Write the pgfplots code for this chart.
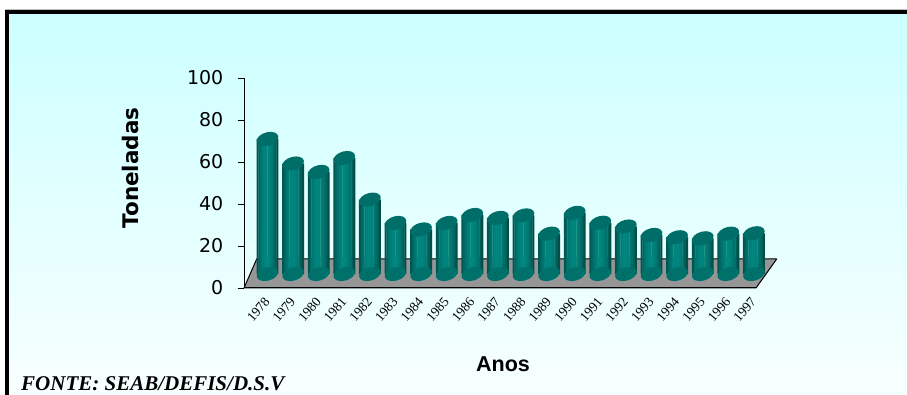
\documentclass[border=0pt]{standalone}
\usepackage{pgfplots}
\pgfplotsset{compat=1.18}
\usepackage{pgfplotstable}
\usepackage{fontspec}
\setmainfont{DejaVu Sans}
\newfontfamily\arialfont{Liberation Sans}
\newfontfamily\timesfont{Liberation Serif}

\definecolor{bgtop}{RGB}{204,255,255}
\definecolor{bgbot}{RGB}{248,255,255}
\definecolor{floorgray}{RGB}{150,150,150}
\definecolor{cylTop}{RGB}{0,110,104}
\definecolor{cylBot}{RGB}{0,112,106}
% vertical strips of the cylinder body, from the left edge to the right edge
\definecolor{cylS0}{RGB}{0,86,82}
\definecolor{cylS1}{RGB}{0,102,97}
\definecolor{cylS2}{RGB}{0,115,109}
\definecolor{cylS3}{RGB}{0,125,118}
\definecolor{cylS4}{RGB}{0,131,124}
\definecolor{cylS5}{RGB}{0,134,127}
\definecolor{cylS6}{RGB}{0,133,126}
\definecolor{cylS7}{RGB}{0,129,122}
\definecolor{cylS8}{RGB}{0,121,115}
\definecolor{cylS9}{RGB}{0,110,104}
\definecolor{cylS10}{RGB}{0,96,91}
\definecolor{cylS11}{RGB}{0,78,74}

% elliptic cap of a cylinder, slightly tilted by the perspective
\pgfdeclareplotmark{cylcap}{%
  \pgfpathellipse{\pgfpointorigin}{\pgfqpoint{10.8pt}{2.6pt}}{\pgfqpoint{-1.0pt}{6.6pt}}%
  \pgfusepathqfill}

\pgfplotstableread{
idx year base tons
0  1978 0 64.3
1  1979 0 52.6
2  1980 0 48.6
3  1981 0 55.2
4  1982 0 35.4
5  1983 0 24.3
6  1984 0 21.2
7  1985 0 24.3
8  1986 0 28.1
9  1987 0 26.7
10 1988 0 27.9
11 1989 0 19.2
12 1990 0 29.1
13 1991 0 24.4
14 1992 0 22.6
15 1993 0 18.6
16 1994 0 17.5
17 1995 0 17.0
18 1996 0 19.2
19 1997 0 19.4
}\toneladas

\begin{document}
\begin{tikzpicture}[x=1pt,y=1pt]
\useasboundingbox (0,0) rectangle (907,395);
\fill[white] (0,0) rectangle (907,395);
\shade[top color=bgtop,bottom color=bgbot] (9,0) rectangle (907,381);
\draw[black!25, line width=0.6pt] (5,386) -- (907,386);
\fill[black] (5,0) rectangle (9,385);
\fill[black] (5,381) rectangle (907,385);

% front axis with the value scale, the year labels and the floor
\begin{axis}[
  at={(244pt,107pt)}, anchor=south west,
  width=512pt, height=210pt, scale only axis,
  xmin=-0.5, xmax=19.5, ymin=0, ymax=100,
  axis lines=left, axis line style={-, line width=1pt},
  axis on top,
  ytick={0,20,...,100},
  xtick={0,...,19},
  xticklabels from table={\toneladas}{year},
  x tick style={draw=none},
  extra x ticks={-0.5,0.5,...,19.5},
  extra x tick labels={},
  extra x tick style={major tick length=4pt, tick style={draw=black}},
  tick align=outside,
  major tick length=6.5pt,
  tick style={black, line width=0.8pt},
  /pgf/number format/assume math mode=true,
  yticklabel style={font=\fontsize{19}{19}\selectfont, inner sep=0pt, xshift=-14pt},
  xticklabel style={font=\timesfont\fontsize{13.5}{13.5}\selectfont, rotate=50,
    anchor=east, inner sep=0pt, xshift=3pt, yshift=-11pt},
  clip=false,
]
\fill[floorgray, draw=black, line width=1pt, line join=round]
  (axis cs:-0.5,0) -- (axis cs:19.5,0)
  -- ([shift={(20.7pt,29pt)}]axis cs:19.5,0)
  -- ([shift={(12.7pt,29pt)}]axis cs:-0.5,0) -- cycle;
\end{axis}

% cylinders standing at mid depth of the floor
\begin{axis}[
  at={(254.7pt,121pt)}, anchor=south west,
  width=512pt, height=210pt, scale only axis,
  xmin=-0.5, xmax=19.5, ymin=0, ymax=100,
  hide axis, clip=false,
]
\addplot[only marks, mark=cylcap, mark options={fill=cylBot, draw=none}]
  table[x=idx, y=base] {\toneladas};
\pgfplotsinvokeforeach{0,...,11}{
  \addplot[ybar, bar width=2.1pt, bar shift={((#1+0.5)*1.8-10.8)*1pt},
    draw=none, fill=cylS#1]
    table[x=idx, y=tons] {\toneladas};
}
\addplot[only marks, mark=cylcap, mark options={fill=cylTop, draw=none}]
  table[x=idx, y=tons] {\toneladas};
\end{axis}

\node[rotate=90, font=\bfseries\fontsize{21.5}{21.5}\selectfont] at (130,227) {Toneladas};
\node[font=\arialfont\bfseries\fontsize{21.5}{21.5}\selectfont] at (503,31) {Anos};
\node[anchor=base west, inner sep=0pt, font=\timesfont\bfseries\itshape\fontsize{21}{21}\selectfont] at (21,4.3) {FONTE: SEAB/DEFIS/D.S.V};
\end{tikzpicture}
\end{document}
